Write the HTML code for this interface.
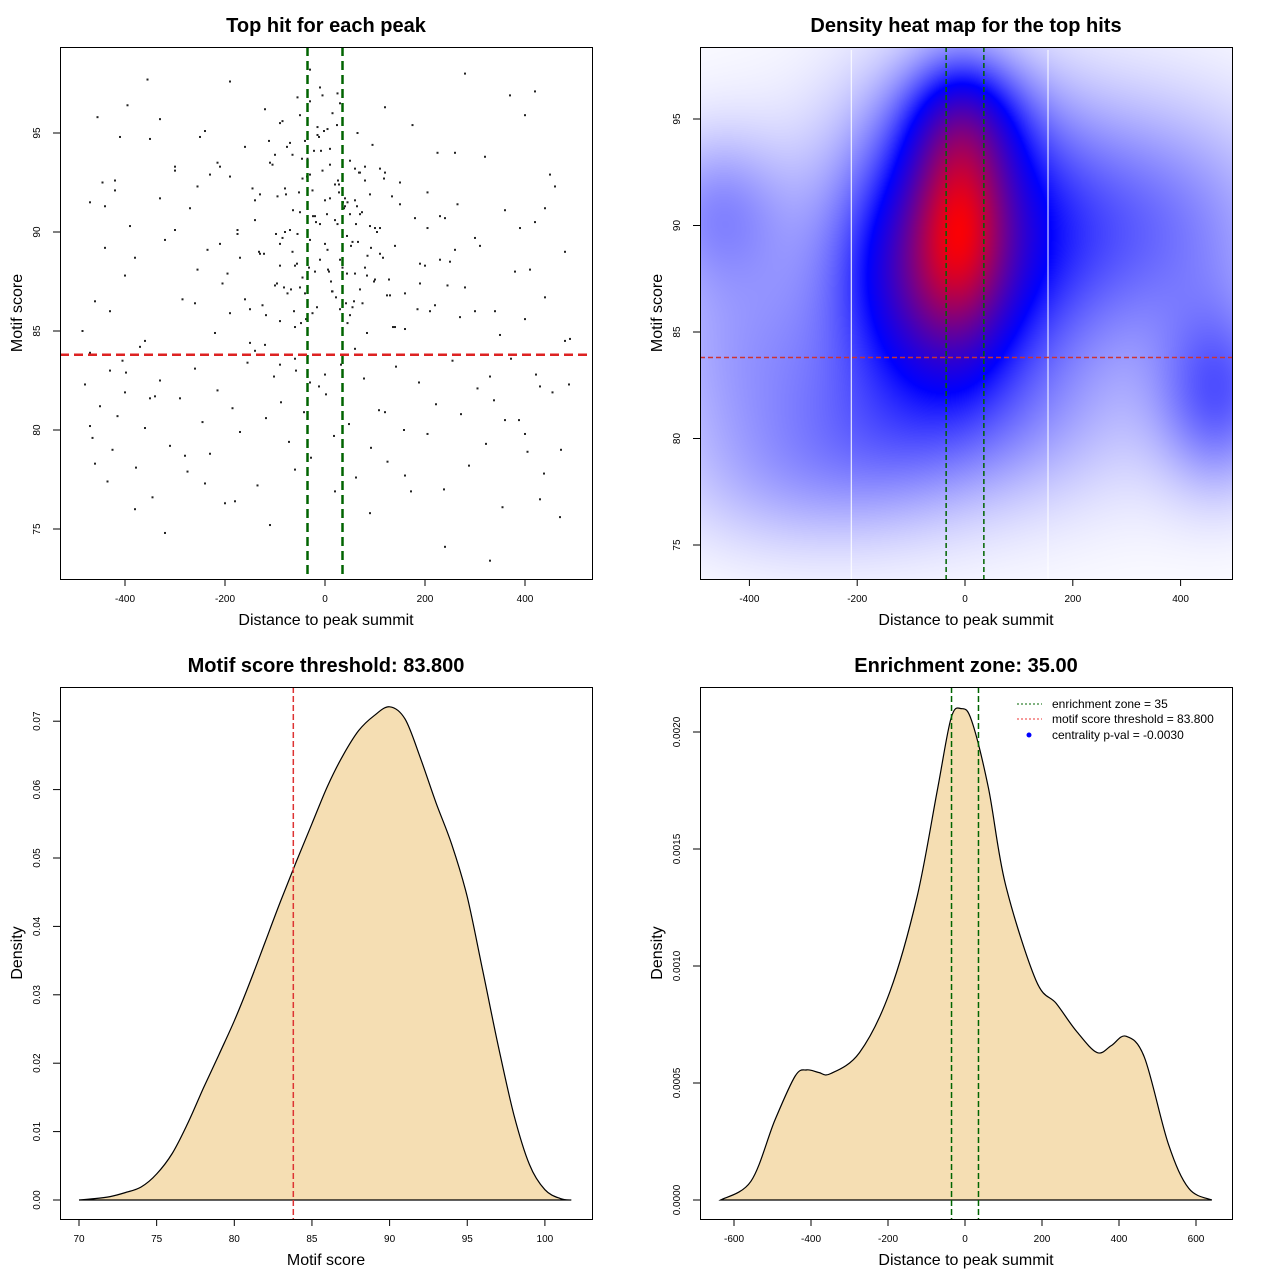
<!DOCTYPE html>
<html><head><meta charset="utf-8"><style>
html,body{margin:0;padding:0;background:#fff;}
#wrap{position:relative;width:1280px;height:1280px;}
svg{position:absolute;left:0;top:0;}
canvas{position:absolute;left:700px;top:47px;}
text{font-family:"Liberation Sans",sans-serif;fill:#000;}
.t{font-size:20px;font-weight:bold;}
.a{font-size:16px;}
.k{font-size:10px;}
</style></head><body>
<div id="wrap">
<canvas id="hm" width="532" height="532"></canvas>
<svg id="s" width="1280" height="1280"></svg>
</div>
<script>
// ---- scatter data (distance, motif score) ----
const scatterX = [-470,-455,-440,-430,-420,-405,-395,-380,-470,-460,-445,-425,-410,-390,-370,-355,-340,-320,-300,-285,-270,-255,-240,-220,-205,-190,-175,-160,-150,-140,-130,-120,-110,-100,-95,-90,-85,-80,-75,-70,-65,-60,-55,-50,-45,-40,-35,-30,-25,-20,-15,-10,-5,0,5,10,15,20,25,30,35,40,45,50,55,60,65,70,75,80,85,90,95,100,110,120,130,140,150,160,175,190,205,220,240,260,280,300,320,340,360,380,400,420,440,460,480,490,
-480,-465,-450,-435,-415,-398,-378,-360,-345,-330,-310,-290,-275,-260,-245,-230,-215,-200,-185,-170,-155,-135,-118,-102,-88,-72,-58,-42,-28,-12,2,18,32,48,62,78,92,108,125,142,158,172,188,205,222,238,255,272,288,305,322,338,355,372,388,405,422,438,455,472,488,
-60,-40,-20,0,20,40,60,-70,-50,-30,-10,10,30,50,70,-80,-45,-15,15,45,80,-90,-55,-25,5,25,55,90,-35,-5,12,38,-65,-22,28,66,
-485,-440,-400,-350,-300,-260,-210,-170,-130,-90,-50,-10,30,70,110,150,190,230,270,310,350,390,430,470,-460,-380,-320,-240,-180,-110,-60,20,90,160,240,330,410,480,-420,-280,-140,10,140,280,420,-330,-190,-30,120,260,400,-250,-90,60,210,370,450,-470,-350,-150,50,250,440,
-125,-105,-85,-68,-52,-38,-24,-8,8,22,36,52,68,84,100,118,136,-132,-112,-96,-78,-62,-46,-32,-18,-2,14,28,44,58,74,92,110,128,-140,-118,-98,-76,-56,-36,-16,4,24,44,64,84,104,124,-145,-122,-100,-82,-64,-48,-30,-12,6,26,42,62,80,98,116,134,-160,-175,-195,-215,-235,-255,160,180,200,225,245,265,-190,-210,-230,185,205,230,-300,-330,-360,300,330,360,-400,-430,400,430,
-120,-60,0,60,120,-90,-30,30,90,150,-150,-75,-15,45,105,-45,15,75];
const scatterY = [91.5,95.8,89.2,86.0,92.1,83.5,96.4,88.7,80.2,86.5,92.5,79.0,94.8,90.3,84.2,97.7,81.7,89.6,93.3,86.6,91.2,88.1,95.1,84.9,87.4,92.8,89.9,94.3,86.1,90.6,88.9,96.2,93.5,87.3,91.8,89.4,95.6,92.2,86.9,90.1,93.9,88.3,96.8,91.0,87.7,94.6,89.8,92.9,85.9,90.8,95.3,88.6,93.1,91.6,89.1,94.2,87.0,92.4,90.4,96.5,88.2,91.3,85.4,93.6,89.5,87.9,95.0,90.9,86.4,92.6,88.8,91.9,94.4,87.6,90.2,93.0,86.8,89.3,91.4,85.1,95.4,88.4,92.0,86.3,90.7,94.0,87.2,89.7,93.8,86.0,91.1,88.0,95.9,90.5,86.7,92.3,89.0,84.6,
82.3,79.6,81.2,77.4,80.7,82.9,78.1,80.1,76.6,82.5,79.2,81.6,77.9,83.1,80.4,78.8,82.0,76.3,81.1,79.9,83.4,77.2,80.6,82.7,81.4,79.4,83.0,80.9,78.6,82.2,81.8,79.7,83.3,80.3,77.6,82.6,79.1,81.0,78.4,83.2,80.0,76.9,82.4,79.8,81.3,77.0,83.5,80.8,78.2,82.1,79.3,81.5,76.1,83.6,80.5,78.9,82.8,77.8,81.9,79.0,82.3,
85.2,86.9,88.0,89.4,90.6,91.7,93.2,94.5,95.9,96.6,97.3,93.4,88.6,85.8,87.1,90.0,92.7,94.9,96.0,91.5,88.2,85.5,89.9,92.1,95.2,97.0,86.2,90.3,93.7,96.9,87.5,91.2,89.0,94.1,
92.0,89.5,85.0,91.3,87.8,94.7,90.1,86.4,93.3,88.7,91.9,95.5,87.2,90.4,86.1,93.0,88.9,92.5,87.4,90.8,85.7,89.3,84.8,90.2,76.5,75.6,78.3,76.0,74.8,77.3,76.4,75.2,78.0,76.9,75.8,77.7,74.1,73.4,88.1,84.5,92.6,78.7,84.0,91.7,85.2,98.0,97.1,95.7,97.6,98.2,96.3,89.1,85.6,94.8,88.3,91.6,86.0,96.9,92.9,83.9,81.6,84.4,90.9,
88.5,91.2,86.3,93.4,89.7,87.1,92.0,85.6,90.8,94.1,88.0,86.7,91.5,89.3,93.0,87.8,90.2,92.7,85.2,89.0,94.6,87.4,91.9,86.0,93.7,88.2,90.5,95.1,87.0,92.4,89.8,86.5,91.0,
89.2,93.2,87.6,91.6,85.8,89.9,94.3,88.4,92.8,86.2,90.9,95.4,87.9,91.3,84.9,90.0,86.8,92.2,88.9,93.9,87.2,91.1,85.4,89.6,94.8,88.1,92.6,86.4,90.4,93.3,87.5,
88.7,91.8,86.6,90.1,87.9,93.5,89.1,92.3,86.9,90.7,88.3,94.0,87.3,91.4,85.9,89.4,92.9,86.1,90.2,88.6,93.1,91.7,84.5,86.0,
82.7,80.5,81.9,83.0,79.8,82.2,84.3,83.6,82.8,84.1,80.9,83.3,82.4];
// ---- motif score density ----
const scoreX = [70,71,72,73,74,75,76,77,78,79,80,81,82,83,84,85,86,87,88,89,90,91,92,93,94,95,96,97,98,99,100,101,101.7];
const scoreD = [0,0.0002,0.0005,0.0011,0.0019,0.0038,0.0068,0.0112,0.0163,0.0212,0.0262,0.0318,0.0378,0.0438,0.0495,0.055,0.0605,0.065,0.0686,0.0708,0.0721,0.0703,0.0645,0.058,0.052,0.0443,0.0335,0.0225,0.0125,0.0052,0.0015,0.0002,0];
// ---- distance density ----
const distX = [-635,-556,-494,-441,-411,-380,-349,-274,-195,-124,-71,-36,-10,17,61,105,184,237,290,343,380,418,466,528,581,641];
const distD = [0,0.00008,0.00034,0.00053,0.000556,0.000545,0.00054,0.00063,0.00089,0.0013,0.00176,0.00206,0.0021,0.00205,0.00176,0.00135,0.00094,0.00084,0.00072,0.00063,0.00066,0.0007,0.00061,0.00024,0.00005,0];
// ---- heatmap kernel blobs ----
const blobX = [-10,-20,0,-460,-400,-330,470,300,0,-150,-90,0];
const blobY = [90.5,89.5,81,90.8,84,78,82,90,87,80,87,95];
const blobW = [0.55,0.55,0.15,0.17,0.14,0.09,0.28,0.24,0.08,0.08,0.2,0.2];
const blobSX = [60,135,200,90,150,150,80,200,400,120,90,80];
const blobSY = [3.8,4.6,3,2.5,4,2.5,3,4,7,3,3,2];
const zone = 35, threshold = 83.8;

const S = document.getElementById('s');
const NS = 'http://www.w3.org/2000/svg';
function el(tag, attrs, parent, txt){const e=document.createElementNS(NS,tag);for(const k in attrs)e.setAttribute(k,attrs[k]);if(txt!==undefined)e.textContent=txt;(parent||S).appendChild(e);return e;}
function smooth(pts){let d='M'+pts[0][0].toFixed(1)+','+pts[0][1].toFixed(1);
  for(let i=0;i<pts.length-1;i++){const p0=pts[Math.max(0,i-1)],p1=pts[i],p2=pts[i+1],p3=pts[Math.min(pts.length-1,i+2)];
    const c1=[p1[0]+(p2[0]-p0[0])/6,p1[1]+(p2[1]-p0[1])/6],c2=[p2[0]-(p3[0]-p1[0])/6,p2[1]-(p3[1]-p1[1])/6];
    d+='C'+c1.map(v=>v.toFixed(1)).join(',')+' '+c2.map(v=>v.toFixed(1)).join(',')+' '+p2.map(v=>v.toFixed(1)).join(',');}
  return d;}

function panel(name,x0,y0,title,xt,yt,xs,ys,xticks,yticks,xfmt,yfmt){
  const g=el('g',{});
  
  
  const t=el('text',{x:x0+266,y:y0-15,'text-anchor':'middle',class:'t'},g,title);
  
  
  const xa=el('text',{x:x0+266,y:y0+578,'text-anchor':'middle',class:'a'},g,xt);
  
  
  const ya=el('text',{x:x0-38,y:y0+266,'text-anchor':'middle',class:'a',transform:`rotate(-90 ${x0-38} ${y0+266})`},g,yt);
  
  
  xticks.forEach(v=>{const px=xs(v);
    el('line',{x1:px,x2:px,y1:y0+532,y2:y0+539,stroke:'#000'},g);
    const tl=el('text',{x:px,y:y0+555,'text-anchor':'middle',class:'k'},g,xfmt(v));
    
    });
  yticks.forEach(v=>{const py=ys(v);
    el('line',{x1:x0-7,x2:x0,y1:py,y2:py,stroke:'#000'},g);
    const tl=el('text',{x:x0-20,y:py,'text-anchor':'middle',class:'k',transform:`rotate(-90 ${x0-20} ${py})`},g,yfmt(v));
    
    });
  return g;
}
function box(g,x0,y0){const b=el('rect',{x:x0+0.5,y:y0+0.5,width:532,height:532,fill:'none',stroke:'#000'},g);
  
  }

// Panel 1: scatter
{const x0=60,y0=47;const X=v=>325+v*0.5;const Y=v=>133+(95-v)*19.8;
 const g=panel('scatter-panel',x0,y0,'Top hit for each peak','Distance to peak summit','Motif score',X,Y,[-400,-200,0,200,400],[75,80,85,90,95],String,String);
 const clip=el('clipPath',{id:'c1'},g);el('rect',{x:x0,y:y0,width:532,height:532},clip);
 const pg=el('g',{'clip-path':'url(#c1)'},g);
 scatterX.forEach((v,i)=>{const c=el('rect',{x:X(v)-1,y:Y(scatterY[i])-1,width:2,height:2,fill:'#222'},pg);
   
   });
 [-zone,zone].forEach(z=>{const l=el('line',{x1:X(z),x2:X(z),y1:y0,y2:y0+532,stroke:'#006400','stroke-width':2.5,'stroke-dasharray':'9 5'},pg);
   
   });
 const r=el('line',{x1:x0,x2:x0+532,y1:Y(threshold),y2:Y(threshold),stroke:'#dd2222','stroke-width':2.5,'stroke-dasharray':'9 5'},pg);
 
 
 box(g,x0,y0);}

// Panel 2: heatmap
{const x0=700,y0=47;const X=v=>965+v*0.539;const Y=v=>119+(95-v)*21.3;
 const g=panel('heatmap-panel',x0,y0,'Density heat map for the top hits','Distance to peak summit','Motif score',X,Y,[-400,-200,0,200,400],[75,80,85,90,95],String,String);
 const cv=document.getElementById('hm');const ctx=cv.getContext('2d');const im=ctx.createImageData(532,532);
 for(let py=0;py<532;py++){const dy=95-(py+y0-119)/21.3;
  for(let px=0;px<532;px++){const dx=(px+x0-965)/0.539;let v=0;
   for(let b=0;b<blobX.length;b++){const a=(dx-blobX[b])/blobSX[b],c=(dy-blobY[b])/blobSY[b];v+=blobW[b]*Math.exp(-0.5*(a*a+c*c));}
   let r,gg,bb;if(v<0.5){const t=v/0.5;r=255*(1-t);gg=255*(1-t);bb=255;}else{const t=Math.min(1,(v-0.5)/0.85);r=255*t;gg=0;bb=255*(1-t);}
   const i=(py*532+px)*4;im.data[i]=r;im.data[i+1]=gg;im.data[i+2]=bb;im.data[i+3]=255;}}
 ctx.putImageData(im,0,0);
 [-211,154].forEach(v=>el('line',{x1:X(v),x2:X(v),y1:y0+3,y2:y0+532,stroke:'#fff','stroke-width':1},g));
 [-zone,zone].forEach(z=>{const l=el('line',{x1:X(z),x2:X(z),y1:y0,y2:y0+532,stroke:'#006400','stroke-width':1.5,'stroke-dasharray':'5 3'},g);
   
   });
 const r=el('line',{x1:x0,x2:x0+532,y1:Y(threshold),y2:Y(threshold),stroke:'#cc3333','stroke-width':1.5,'stroke-dasharray':'5 3'},g);
 
 
 box(g,x0,y0);}

// Panel 3: score density
{const x0=60,y0=687;const X=v=>79+(v-70)*15.53;const Y=v=>1200-v*6840;
 const g=panel('score-density-panel',x0,y0,'Motif score threshold: 83.800','Motif score','Density',X,Y,[70,75,80,85,90,95,100],[0,0.01,0.02,0.03,0.04,0.05,0.06,0.07],String,v=>v.toFixed(2));
 const d=smooth(scoreX.map((v,i)=>[X(v),Y(scoreD[i])]))+'Z';
 const p=el('path',{d:d,fill:'#f5deb3',stroke:'#000','stroke-width':1.2},g);
 
 
 const l=el('line',{x1:X(threshold),x2:X(threshold),y1:y0,y2:y0+532,stroke:'#dd3333','stroke-width':1.5,'stroke-dasharray':'6 3'},g);
 
 
 box(g,x0,y0);}

// Panel 4: distance density
{const x0=700,y0=687;const X=v=>965+v*0.385;const Y=v=>1200-v*234000;
 const g=panel('distance-density-panel',x0,y0,'Enrichment zone: 35.00','Distance to peak summit','Density',X,Y,[-600,-400,-200,0,200,400,600],[0,0.0005,0.001,0.0015,0.002],String,v=>v.toFixed(4));
 const d=smooth(distX.map((v,i)=>[X(v),Y(distD[i])]))+'Z';
 const p=el('path',{d:d,fill:'#f5deb3',stroke:'#000','stroke-width':1.2},g);
 
 
 [-zone,zone].forEach(z=>{const l=el('line',{x1:X(z),x2:X(z),y1:y0,y2:y0+532,stroke:'#006400','stroke-width':1.5,'stroke-dasharray':'6 3'},g);
   
   });
 const lg=el('g',{},g);
 
 
 el('line',{x1:1017,x2:1042,y1:704,y2:704,stroke:'#006400','stroke-dasharray':'2 2'},lg);
 el('text',{x:1052,y:708,style:'font-size:12px'},lg,'enrichment zone = 35');
 el('line',{x1:1017,x2:1042,y1:719,y2:719,stroke:'#ee3333','stroke-dasharray':'2 2'},lg);
 el('text',{x:1052,y:723,style:'font-size:12px'},lg,'motif score threshold = 83.800');
 el('circle',{cx:1029,cy:735,r:2.5,fill:'#0000ff'},lg);
 el('text',{x:1052,y:739,style:'font-size:12px'},lg,'centrality p-val = -0.0030');
 box(g,x0,y0);}
</script>
</body></html>
